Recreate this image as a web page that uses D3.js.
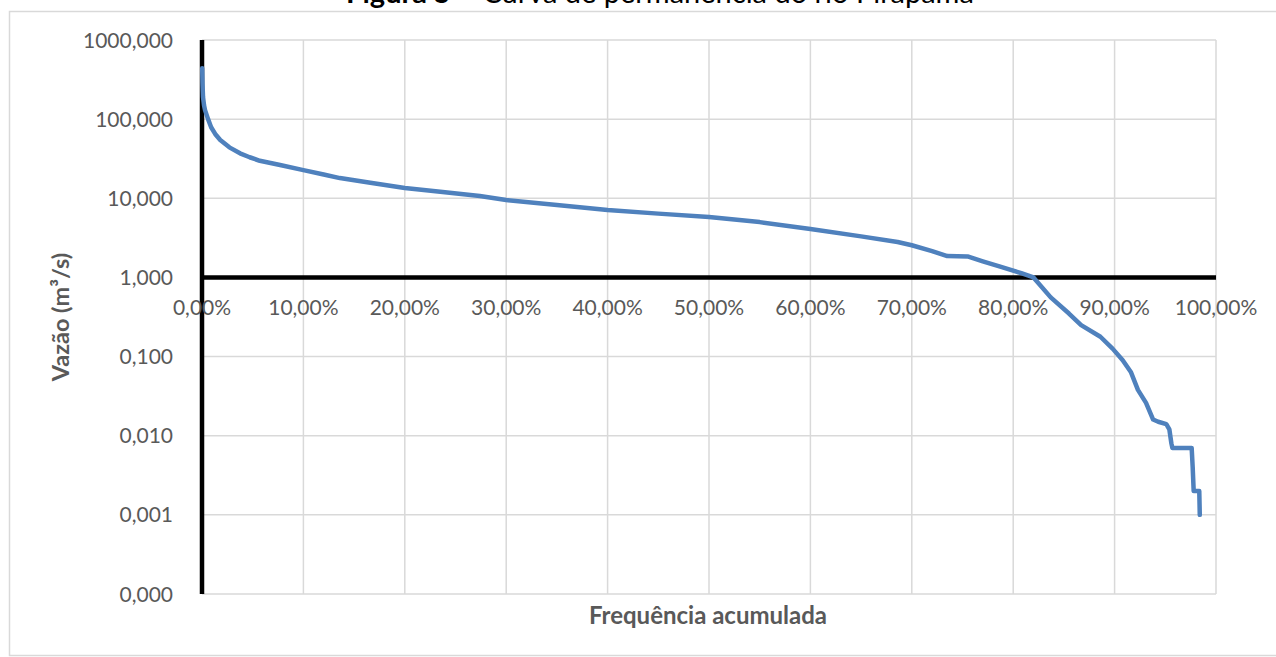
<!DOCTYPE html>
<html>
<head>
<meta charset="utf-8">
<script src="https://cdn.jsdelivr.net/npm/d3@7"></script>
<style>
  body { margin: 0; background: #fff; }
  svg { display: block; font-family: Lato, "Open Sans", sans-serif; }
</style>
</head>
<body>
<svg id="chart" width="1276" height="657"></svg>
<script>
// curva de permanencia
var freq = [0.02, 0.05, 0.1, 0.2, 0.3, 0.6, 0.9, 1.3, 1.8, 2.7, 3.75, 4.7, 5.7, 7.7, 10, 12, 13.6,
  16.6, 20, 23.5, 27.4, 30, 35, 40, 45, 50, 55, 60, 65, 68.6, 70, 72, 73.5, 75.5, 77, 78.8,
  80.8, 82, 83.7, 85.5, 86.7, 88.6, 89.8, 90.8, 91.6, 92.3, 93.1, 93.8, 94.3, 95.1, 95.4,
  95.6, 95.7, 97.6, 97.7, 97.8, 98.35, 98.4];
var vazao = [440, 280, 190, 150, 130, 100, 79, 65, 54.5, 44, 37, 33, 29.8, 26.3, 22.7, 20, 18,
  15.7, 13.5, 12.1, 10.7, 9.5, 8.2, 7.1, 6.4, 5.8, 5.0, 4.1, 3.3, 2.8, 2.55, 2.15, 1.86, 1.84, 1.6, 1.36,
  1.13, 1.0, 0.56, 0.35, 0.25, 0.178, 0.126, 0.09, 0.064, 0.038, 0.026, 0.016, 0.015, 0.014, 0.012,
  0.008, 0.007, 0.007, 0.004, 0.002, 0.002, 0.001];
var yTicks = [0.0001, 0.001, 0.01, 0.1, 1, 10, 100, 1000];
var xTicks = [0, 10, 20, 30, 40, 50, 60, 70, 80, 90, 100];

var margin = { top: 40, left: 202, right: 60, bottom: 63 },
    width = 1276 - margin.left - margin.right,
    height = 657 - margin.top - margin.bottom;

var ptBR = d3.formatLocale({ decimal: ",", thousands: ".", grouping: [3], currency: ["R$", ""] });
var fmtY = ptBR.format(".3f"),
    fmtX = ptBR.format(".2%");

var svg = d3.select("#chart");

// borda da area do grafico
svg.append("rect")
  .attr("x", 9.5).attr("y", 11.5)
  .attr("width", 1300).attr("height", 644)
  .attr("fill", "none").attr("stroke", "#d9d9d9").attr("stroke-width", 1.5);

// titulo (cortado no topo, como na figura original)
var title = svg.append("text")
  .attr("x", 660).attr("y", 3)
  .attr("text-anchor", "middle")
  .style("font-size", "29px")
  .attr("fill", "#000");
title.append("tspan").style("font-weight", "bold").text("Figura 5");
title.append("tspan").text(" – Curva de permanência do rio Pirapama");

var g = svg.append("g")
  .attr("transform", "translate(" + margin.left + "," + margin.top + ")");

var x = d3.scaleLinear().domain([0, 100]).range([0, width]);
var y = d3.scaleLog().domain([0.0001, 1000]).range([height, 0]);

// grade
g.selectAll(".vgrid").data(xTicks).enter().append("line")
  .attr("x1", d => x(d)).attr("x2", d => x(d))
  .attr("y1", 0).attr("y2", height)
  .attr("stroke", "#d9d9d9").attr("stroke-width", 1.5);
g.selectAll(".hgrid").data(yTicks).enter().append("line")
  .attr("x1", 0).attr("x2", width)
  .attr("y1", d => y(d)).attr("y2", d => y(d))
  .attr("stroke", "#d9d9d9").attr("stroke-width", 1.5);

// rotulos eixo Y
g.selectAll(".ylab").data(yTicks).enter().append("text")
  .attr("x", -29).attr("y", d => y(d))
  .attr("dy", "0.36em")
  .attr("text-anchor", "end")
  .attr("fill", "#595959")
  .style("font-size", "21px")
  .text(d => fmtY(d));

// eixos pretos
g.append("line")
  .attr("x1", 0).attr("x2", width)
  .attr("y1", y(1)).attr("y2", y(1))
  .attr("stroke", "#000").attr("stroke-width", 4.5);
g.append("line")
  .attr("x1", 0).attr("x2", 0)
  .attr("y1", 0).attr("y2", height)
  .attr("stroke", "#000").attr("stroke-width", 4.5);

// rotulos eixo X (junto ao eixo em 1,000)
g.selectAll(".xlab").data(xTicks).enter().append("text")
  .attr("x", d => x(d)).attr("y", y(1) + 38)
  .attr("text-anchor", "middle")
  .attr("fill", "#595959")
  .style("font-size", "21px")
  .text(d => fmtX(d / 100));

// curva
var pts = freq.map((f, i) => [f, vazao[i]]);
var line = d3.line()
  .x(d => x(d[0]))
  .y(d => y(d[1]));
g.append("path")
  .datum(pts)
  .attr("d", line)
  .attr("fill", "none")
  .attr("stroke", "#4f81bd")
  .attr("stroke-width", 4.5)
  .attr("stroke-linejoin", "round")
  .attr("stroke-linecap", "round");

// titulos dos eixos
svg.append("text")
  .attr("transform", "translate(69,317) rotate(-90)")
  .attr("text-anchor", "middle")
  .attr("fill", "#595959")
  .style("font-size", "23.5px")
  .style("font-weight", "bold")
  .text("Vazão (m³/s)");

svg.append("text")
  .attr("x", 708).attr("y", 624)
  .attr("text-anchor", "middle")
  .attr("fill", "#595959")
  .style("font-size", "24px")
  .style("font-weight", "bold")
  .text("Frequência acumulada");
</script>
</body>
</html>
